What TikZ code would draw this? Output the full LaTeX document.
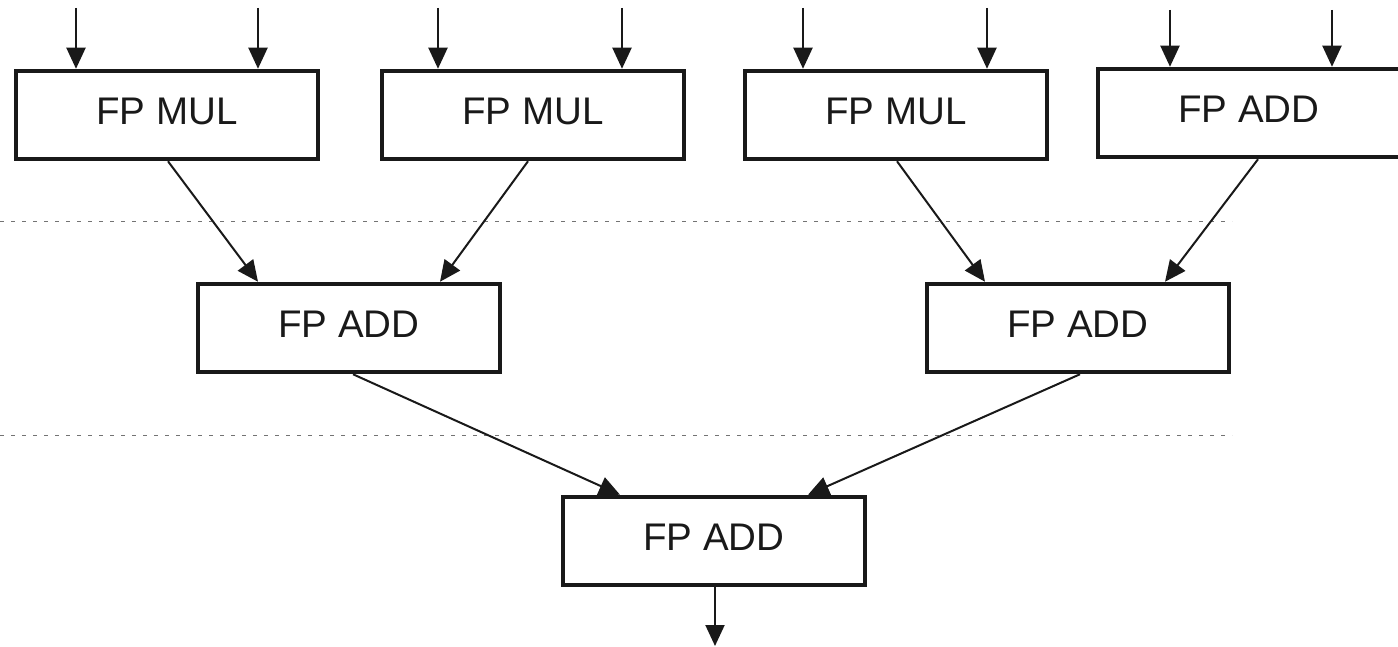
\documentclass[tikz,border=0pt]{standalone}
\usepackage{fontspec}
\setmainfont{Liberation Sans}
\usetikzlibrary{arrows.meta}
\begin{document}
\begin{tikzpicture}[x=1pt,y=-1pt,
  unit/.style={draw=black!90,line width=4.5pt,fill=white,minimum width=302pt,minimum height=88pt,
    inner sep=0pt,text depth=8pt,font=\fontsize{38.5}{40}\selectfont,text=black!90},
  flow/.style={draw=black!90,line width=2pt,-{Triangle[length=21pt,width=19pt]}},
  stage/.style={draw=black!55,line width=1pt,dash pattern=on 4pt off 7pt}]
\useasboundingbox (0,0) rectangle (1398,647);
% pipeline stage separators
\draw[stage] (0,222) -- (1232,222);
\draw[stage] (0,435) -- (1232,435);
% first stage: multipliers and adder
\node[unit] (m1) at (167,115) {FP MUL};
\node[unit] (m2) at (533,115) {FP MUL};
\node[unit] (m3) at (896,115) {FP MUL};
\node[unit] (a0) at (1249,113) {FP ADD};
% second stage
\node[unit] (a1) at (349,328) {FP ADD};
\node[unit] (a2) at (1078,328) {FP ADD};
% final stage
\node[unit] (a3) at (714,541) {FP ADD};
% operand inputs
\coordinate (i1) at (76,8);   \coordinate (i2) at (258,8);
\coordinate (i3) at (438,8);  \coordinate (i4) at (622,8);
\coordinate (i5) at (803,8);  \coordinate (i6) at (987,8);
\coordinate (i7) at (1170,10); \coordinate (i8) at (1332,10);
\coordinate (out) at (715,646);
\draw[flow] (i1) -- (i1 |- m1.north);
\draw[flow] (i2) -- (i2 |- m1.north);
\draw[flow] (i3) -- (i3 |- m2.north);
\draw[flow] (i4) -- (i4 |- m2.north);
\draw[flow] (i5) -- (i5 |- m3.north);
\draw[flow] (i6) -- (i6 |- m3.north);
\draw[flow] (i7) -- (i7 |- a0.north);
\draw[flow] (i8) -- (i8 |- a0.north);
% reduction tree
\draw[flow] ([xshift=1pt]m1.south) -- ([xshift=-91pt]a1.north);
\draw[flow] ([xshift=-5pt]m2.south) -- ([xshift=91pt]a1.north);
\draw[flow] ([xshift=1pt]m3.south) -- ([xshift=-93pt]a2.north);
\draw[flow] ([xshift=9pt]a0.south) -- ([xshift=87pt]a2.north);
\draw[flow] ([xshift=4pt]a1.south) -- ([xshift=-94pt]a3.north);
\draw[flow] ([xshift=2pt]a2.south) -- ([xshift=94pt]a3.north);
\draw[flow] (a3.south -| out) -- (out);
\end{tikzpicture}
\end{document}
